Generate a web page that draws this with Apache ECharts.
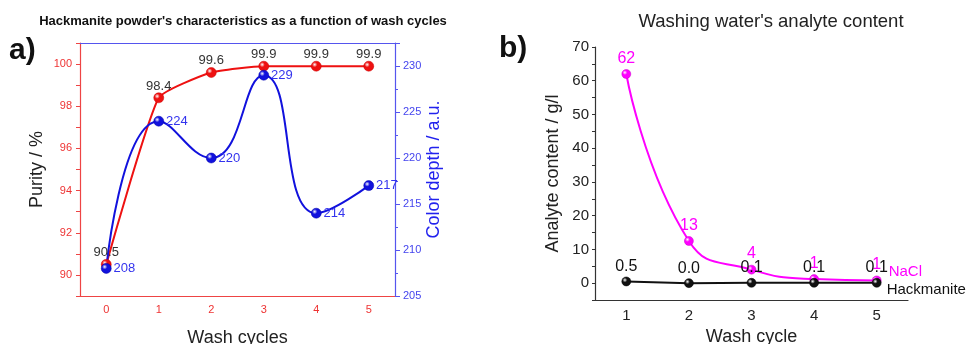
<!DOCTYPE html>
<html><head><meta charset="utf-8">
<script src="https://cdn.jsdelivr.net/npm/echarts@6/dist/echarts.min.js"></script>
<style>html,body{margin:0;padding:0;background:#fff;overflow:hidden}#c{width:969px;height:344px}</style>
</head><body><div id="c"></div>
<script>
// Panel a data
const cyclesA = ['0','1','2','3','4','5'];
const purity = [90.5, 98.4, 99.6, 99.9, 99.9, 99.9];
const colorDepth = [208, 224, 220, 229, 214, 217];
const leftTicksA = [90, 92, 94, 96, 98, 100];
const rightTicksA = [205, 210, 215, 220, 225, 230];
// Panel b data
const cyclesB = ['1','2','3','4','5'];
const nacl = [62, 12.5, 4, 1.2, 0.8];
const naclLabels = ['62','13','4','1','1'];
const hackmanite = [0.5, 0.0, 0.1, 0.1, 0.1];
const hackLabels = ['0.5','0.0','0.1','0.1','0.1'];
const yTicksB = [0, 10, 20, 30, 40, 50, 60, 70];

function ball(c){
  return {type:'radial',x:0.35,y:0.35,r:0.7,colorStops:[{offset:0,color:'#ffffff'},{offset:0.35,color:c},{offset:1,color:c}]};
}
const RED='#ee1111', BLUE='#1111dd', MAG='#ff00ff';
const FONT='Liberation Sans, Arial, sans-serif';
const chart = echarts.init(document.getElementById('c'));
chart.setOption({
  animation:false,
  textStyle:{fontFamily:FONT},
  title:[
    {text:"Hackmanite powder's characteristics as a function of wash cycles",left:238,top:10,textAlign:'center',
     textStyle:{fontSize:13,fontWeight:'bold',color:'#111',fontFamily:FONT}},
    {text:"Washing water's analyte content",left:766,top:7,textAlign:'center',
     textStyle:{fontSize:18.5,fontWeight:'normal',color:'#222',fontFamily:FONT}},
    {text:'a)',left:4,top:31,textStyle:{fontSize:30,fontWeight:'bold',color:'#111',fontFamily:FONT}},
    {text:'b)',left:494,top:29,textStyle:{fontSize:30,fontWeight:'bold',color:'#111',fontFamily:FONT}}
  ],
  grid:[
    {left:80,top:43,width:315,height:253,containLabel:false,outerBoundsMode:'none'},
    {left:595,top:47,width:313,height:253,containLabel:false,outerBoundsMode:'none'}
  ],
  xAxis:[
    {type:'category',gridIndex:0,data:cyclesA,boundaryGap:true,position:'bottom',
     axisLine:{onZero:false,lineStyle:{color:'#ee4444',width:1.2}},
     axisTick:{alignWithLabel:true,length:4,lineStyle:{color:'#ee4444'}},
     axisLabel:{color:'#ee3333',fontSize:11,margin:8},
     name:'Wash cycles',nameLocation:'middle',nameGap:33,nameTextStyle:{fontSize:18,color:'#222'}},
    {type:'category',gridIndex:0,data:cyclesA,boundaryGap:true,position:'top',
     axisLine:{onZero:false,lineStyle:{color:'#5555ee',width:1.2}},
     axisTick:{alignWithLabel:true,inside:true,length:5,lineStyle:{color:'#5555ee'}},
     axisLabel:{show:false}},
    {type:'category',gridIndex:1,data:cyclesB,boundaryGap:true,position:'bottom',
     axisLine:{onZero:false,lineStyle:{color:'#333',width:1.2}},
     axisTick:{alignWithLabel:false,length:3,lineStyle:{color:'#333'}},
     axisLabel:{show:false}},
    {type:'category',gridIndex:1,data:cyclesB,boundaryGap:true,position:'bottom',
     axisLine:{show:false,onZero:false},
     axisTick:{alignWithLabel:true,length:5,lineStyle:{color:'#333'}},
     axisLabel:{color:'#222',fontSize:15,margin:8},
     name:'Wash cycle',nameLocation:'middle',nameGap:28,nameTextStyle:{fontSize:18,color:'#222'}}
  ],
  yAxis:[
    {type:'value',gridIndex:0,min:89,max:101,interval:1,position:'left',
     axisLine:{show:true,onZero:false,lineStyle:{color:'#ee4444',width:1.2}},
     axisTick:{show:true,length:4,lineStyle:{color:'#ee4444'}},
     splitLine:{show:false},
     axisLabel:{color:'#ee3333',fontSize:11,margin:8,formatter:v=>leftTicksA.includes(v)?String(v):''},
     name:'Purity / %',nameLocation:'middle',nameGap:34,nameRotate:90,nameTextStyle:{fontSize:18,color:'#222'}},
    {type:'value',gridIndex:0,min:205,max:232.5,interval:5,position:'right',
     axisLine:{show:true,onZero:false,lineStyle:{color:'#5555ee',width:1.2}},
     axisTick:{show:true,length:5,lineStyle:{color:'#5555ee'}},
     minorTick:{show:true,splitNumber:2,length:3,lineStyle:{color:'#5555ee'}},
     splitLine:{show:false},
     axisLabel:{color:'#4444ee',fontSize:11,margin:8,formatter:v=>rightTicksA.includes(v)?String(v):''},
     name:'Color depth / a.u.',nameLocation:'middle',nameGap:30,nameRotate:90,nameTextStyle:{fontSize:18,color:'#2222ee'}},
    {type:'value',gridIndex:1,min:-5,max:70,interval:5,position:'left',
     axisLine:{show:true,onZero:false,lineStyle:{color:'#333',width:1.2}},
     axisTick:{show:true,length:3,lineStyle:{color:'#333'}},
     splitLine:{show:false},
     axisLabel:{color:'#222',fontSize:15,margin:6,formatter:v=>yTicksB.includes(v)?String(v):''},
     name:'Analyte content / g/l',nameLocation:'middle',nameGap:33,nameRotate:90,nameTextStyle:{fontSize:18,color:'#222'}}
  ],
  series:[
    {name:'Purity',type:'line',xAxisIndex:0,yAxisIndex:0,data:purity,smooth:0.15,
     lineStyle:{color:RED,width:2},symbol:'circle',symbolSize:10,
     itemStyle:{color:ball(RED),borderColor:'#cc0000',borderWidth:0.5},
     label:{show:true,position:'top',distance:0,color:'#333',fontSize:13,formatter:p=>p.value.toFixed(1)}},
    {name:'Color depth',type:'line',xAxisIndex:0,yAxisIndex:1,data:colorDepth,smooth:0.5,
     lineStyle:{color:BLUE,width:2},symbol:'circle',symbolSize:10,
     itemStyle:{color:ball(BLUE),borderColor:'#0000aa',borderWidth:0.5},
     label:{show:true,position:'right',distance:2,color:'#3333ee',fontSize:13}},
    {name:'NaCl',type:'line',xAxisIndex:2,yAxisIndex:2,data:nacl,smooth:0.5,
     lineStyle:{color:MAG,width:2},symbol:'circle',symbolSize:9,
     itemStyle:{color:ball(MAG),borderColor:'#cc00cc',borderWidth:0.5},
     label:{show:true,position:'top',distance:3,color:MAG,fontSize:16,formatter:p=>naclLabels[p.dataIndex]},
     endLabel:{show:true,formatter:'NaCl',color:MAG,fontSize:15,distance:10,offset:[2,-9]}},
    {name:'Hackmanite',type:'line',xAxisIndex:2,yAxisIndex:2,data:hackmanite,
     lineStyle:{color:'#111',width:2},symbol:'circle',symbolSize:9,
     itemStyle:{color:ball('#111'),borderColor:'#000',borderWidth:0.5},
     label:{show:true,position:'top',distance:2,color:'#111',fontSize:16,formatter:p=>hackLabels[p.dataIndex]},
     endLabel:{show:true,formatter:'Hackmanite',color:'#111',fontSize:15,distance:8,offset:[2,7]}}
  ]
});
</script></body></html>
